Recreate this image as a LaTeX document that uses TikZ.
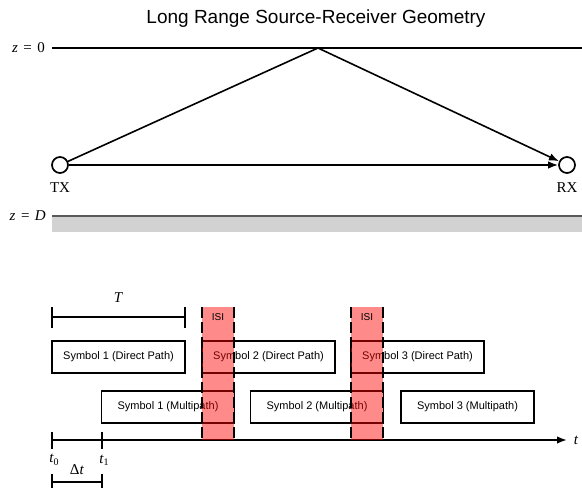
\documentclass[tikz,border=0pt]{standalone}
\usepackage{fontspec}
\setmainfont{Liberation Serif}
\newfontfamily\labelsans{Liberation Sans}
\usetikzlibrary{arrows.meta}
\definecolor{bandgray}{RGB}{210,210,210}
\definecolor{edgegray}{RGB}{90,90,90}
\newcommand{\sub}[1]{\raisebox{-0.35ex}{\fontsize{10}{12}\selectfont #1}}
\newcommand{\eqsp}{\hspace{5.5pt}=\hspace{5.5pt}}
\tikzset{
  heavy/.style={line width=1.7pt},
  station/.style={circle, draw, heavy, fill=white, minimum size=16pt, inner sep=0pt},
  ray/.style={line width=1.6pt, -{Latex[length=10pt,width=7.5pt]}},
  symbox/.style={draw, heavy, minimum width=133pt, minimum height=32pt, inner sep=0pt,
    font=\labelsans\fontsize{11}{13}\selectfont},
  serlabel/.style={font=\fontsize{15}{17}\selectfont, inner sep=1pt},
  isizone/.style={fill=red, fill opacity=0.46, draw=none},
  isiedge/.style={heavy, dash pattern=on 11pt off 4pt},
}
\begin{document}
\begin{tikzpicture}[x=1pt,y=-1pt]
\useasboundingbox (0,0) rectangle (582,488);

% title
\node[font=\labelsans\fontsize{19}{22}\selectfont] (title) at (316,19) {Long Range Source-Receiver Geometry};

% surface and bottom boundaries
\node[serlabel, anchor=east] (zs) at (46,48) {\textit{z}\eqsp0};
\coordinate (s0) at (52,48);
\coordinate (s1) at (582,48);
\draw[heavy] (s0) -- (s1);
\coordinate (apex) at (318,48);

\fill[bandgray] (52,216) rectangle (582,232);
\node[serlabel, anchor=east] (zb) at (47,216) {\textit{z}\eqsp\textit{D}};
\coordinate (b0) at (52,216);
\coordinate (b1) at (582,216);
\draw[heavy, edgegray] (b0) -- (b1);

% source and receiver
\node[station] (tx) at (60,165) {};
\node[station] (rx) at (567,165) {};
\node[serlabel] (txl) at (60,188) {TX};
\node[serlabel] (rxl) at (567,188) {RX};

% propagation paths
\draw[ray] (tx) -- (apex) -- (rx);
\draw[ray] (tx) -- (rx);

% symbol period bracket
\coordinate (ta) at (52,317);
\coordinate (tb) at (185,317);
\draw[heavy] (ta) -- (tb);
\draw[heavy] (52,307) -- (52,328);
\draw[heavy] (185,307) -- (185,328);
\node[serlabel] (tlab) at (118.5,298) {\textit{T}};

% symbols
\node[symbox] (d1) at (118.5,357) {Symbol 1 (Direct Path)};
\node[symbox] (d2) at (268.5,357) {Symbol 2 (Direct Path)};
\node[symbox] (d3) at (417.5,357) {Symbol 3 (Direct Path)};
\node[symbox] (m1) at (168,407) {Symbol 1 (Multipath)};
\node[symbox] (m2) at (317,407) {Symbol 2 (Multipath)};
\node[symbox] (m3) at (467.5,407) {Symbol 3 (Multipath)};

% time axis
\coordinate (t0) at (52,440);
\coordinate (tend) at (567,440);
\draw[heavy, -{Latex[length=10pt,width=7.5pt]}] (t0) -- (tend);
\node[serlabel] (tlabel) at (576,440) {\textit{t}};
\draw[heavy] (52,432) -- (52,449);
\draw[heavy] (102,432) -- (102,449);
\node[serlabel] (t0l) at (54,460) {\textit{t}\sub{0}};
\node[serlabel] (t1l) at (104,460) {\textit{t}\sub{1}};

% delay bracket
\coordinate (da) at (52,482);
\coordinate (db) at (102,482);
\draw[heavy] (da) -- (db);
\draw[heavy] (52,474) -- (52,488);
\draw[heavy] (102,474) -- (102,488);
\node[serlabel] (dtl) at (77,470) {Δ\textit{t}};

% intersymbol interference zones
\fill[isizone] (202,307) rectangle (234,440);
\fill[isizone] (351,307) rectangle (383,440);
\foreach \xx in {202,234,351,383}
  \draw[isiedge] (\xx,307) -- (\xx,440);
\node[font=\labelsans\fontsize{10}{12}\selectfont] (isi1) at (218,317) {ISI};
\node[font=\labelsans\fontsize{10}{12}\selectfont] (isi2) at (367,317) {ISI};
\end{tikzpicture}
\end{document}
